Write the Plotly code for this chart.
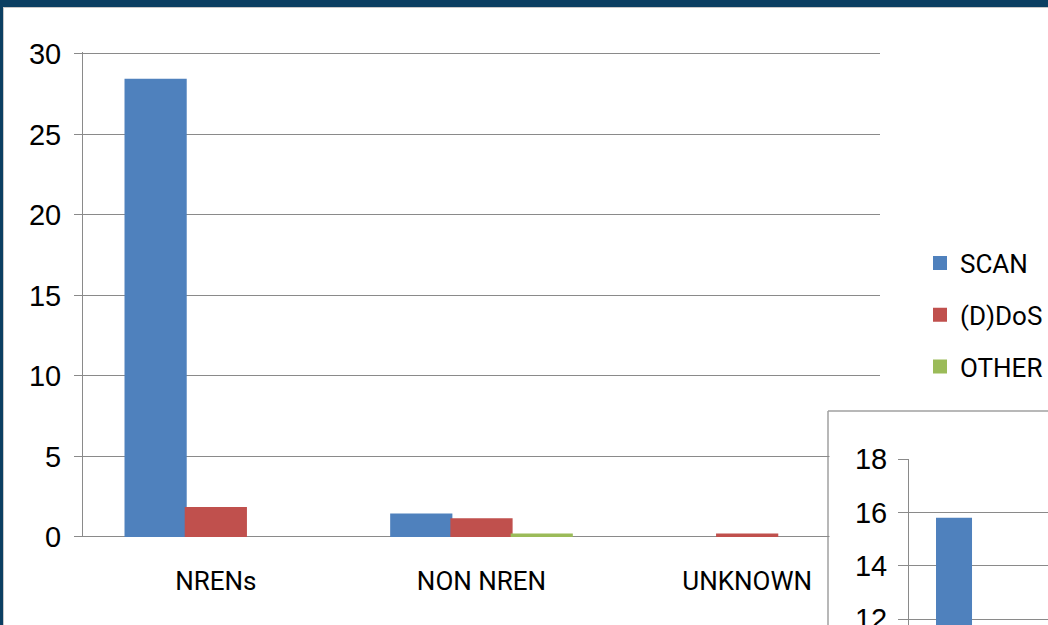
import plotly.graph_objects as go

# Incident counts by source network
categories = ["NRENs", "NON NREN", "UNKNOWN"]
scan = [28.4, 1.4, 0]
ddos = [1.8, 1.1, 0.15]
other = [0, 0.15, 0]

main_ticks = [0, 5, 10, 15, 20, 25, 30]

# Inset panel (second chart, partly outside the frame)
inset_categories = ["NRENs"]
inset_scan = [15.8]
inset_ticks = [12, 14, 16, 18]

W, H = 1048, 625
BLUE, RED, GREEN = "#4f81bd", "#c0504d", "#9bbb59"
GRID = "#8a8a8a"
NUM_FONT = dict(family="Liberation Sans, Arial, sans-serif", size=29, color="#000000")
TXT_FONT = dict(family="Roboto, Liberation Sans, sans-serif", size=26, color="#000000")

# main value axis: 30 units over 483 px, top padded a little so the 30 gridline is kept
Y_TOP = 30.12
Y0_PX, PX_PER_UNIT = 537, 483 / 30


def px_x(p):
    return p / W


def px_y(p):
    return (H - p) / H


def shown(vals):
    # zero counts draw no bar at all
    return [v if v else None for v in vals]


fig = go.Figure()

for name, vals, col in [("SCAN", scan, BLUE), ("(D)DoS", ddos, RED), ("OTHER", other, GREEN)]:
    fig.add_trace(go.Bar(
        x=categories, y=shown(vals), name=name, legendgroup=name,
        marker=dict(color=col, line=dict(color=col, width=2)),
        xaxis="x", yaxis="y",
    ))

fig.add_trace(go.Bar(
    x=inset_categories, y=inset_scan, name="SCAN", showlegend=False,
    width=0.2, offset=-0.3,
    marker=dict(color=BLUE, line=dict(width=0)),
    xaxis="x2", yaxis="y2",
))

fig.update_layout(
    template="none",
    width=W, height=H, autosize=False,
    margin=dict(l=0, r=0, t=0, b=0, pad=0),
    paper_bgcolor="white", plot_bgcolor="rgba(0,0,0,0)",
    barmode="group", bargap=0.32, bargroupgap=0,
    showlegend=True,
    legend=dict(
        x=1, y=px_y(315), xanchor="right", yanchor="middle",
        font=TXT_FONT, traceorder="grouped", tracegroupgap=15,
        bgcolor="rgba(0,0,0,0)", borderwidth=0,
    ),
    xaxis=dict(
        domain=[px_x(83), px_x(880)], anchor="y", automargin=False,
        type="category", range=[-0.5, 2.5],
        showgrid=False, showline=False, zeroline=False,
        ticks="", tickfont=TXT_FONT, ticklabelstandoff=26,
    ),
    xaxis3=dict(
        overlaying="x", anchor="y", side="bottom", automargin=False,
        type="linear", range=[-0.5, 2.5],
        tickvals=[-0.5, 0.5, 1.5], ticks="outside", ticklen=9,
        tickcolor=GRID, tickwidth=1,
        showticklabels=False, showgrid=False, zeroline=False, showline=False,
    ),
    yaxis=dict(
        domain=[px_y(Y0_PX), px_y(Y0_PX - Y_TOP * PX_PER_UNIT)], anchor="x", automargin=False,
        range=[0, Y_TOP], tickvals=main_ticks,
        showgrid=True, gridcolor=GRID, gridwidth=1,
        zeroline=True, zerolinecolor=GRID, zerolinewidth=1,
        showline=True, linecolor=GRID, linewidth=1,
        ticks="outside", ticklen=8, tickcolor=GRID,
        tickfont=NUM_FONT, ticklabelstandoff=7,
    ),
    xaxis2=dict(
        domain=[px_x(909), 1], anchor="y2", automargin=False,
        type="category", range=[-0.45, 0.322],
        showgrid=False, showline=False, zeroline=False,
        ticks="", showticklabels=False,
    ),
    yaxis2=dict(
        domain=[0, px_y(459)], anchor="x2", automargin=False,
        range=[18 - (625 - 459) / 26.7, 18], tickvals=inset_ticks,
        showgrid=True, gridcolor=GRID, gridwidth=1, zeroline=False,
        showline=True, linecolor=GRID, linewidth=1,
        ticks="outside", ticklen=10, tickcolor=GRID,
        tickfont=NUM_FONT, ticklabelstandoff=5, ticklabeloverflow="allow",
    ),
    shapes=[
        # slide frame
        dict(type="rect", xref="paper", yref="paper", x0=0, x1=1, y0=px_y(7), y1=1,
             fillcolor="#0b3f62", line=dict(width=0), layer="below"),
        dict(type="rect", xref="paper", yref="paper", x0=0, x1=px_x(3), y0=0, y1=1,
             fillcolor="#0b3f62", line=dict(width=0), layer="below"),
        dict(type="line", xref="paper", yref="paper", x0=px_x(3), x1=1, y0=px_y(7.5), y1=px_y(7.5),
             line=dict(color="#c8c8c8", width=1), layer="below"),
        dict(type="line", xref="paper", yref="paper", x0=px_x(3.5), x1=px_x(3.5), y0=0, y1=px_y(7),
             line=dict(color="#c8c8c8", width=1), layer="below"),
        # blank out the main grid behind the inset panel
        dict(type="rect", xref="x", yref="y", x0=2.31, x1=3, y0=-2, y1=7.75,
             fillcolor="white", line=dict(width=0), layer="between"),
        # inset panel border
        dict(type="line", xref="paper", yref="paper", x0=px_x(828), x1=1, y0=px_y(411), y1=px_y(411),
             line=dict(color="#a0a0a0", width=1.5), layer="below"),
        dict(type="line", xref="paper", yref="paper", x0=px_x(828), x1=px_x(828), y0=0, y1=px_y(411),
             line=dict(color="#a0a0a0", width=1.5), layer="below"),
    ],
)

fig.write_html("out.html")
